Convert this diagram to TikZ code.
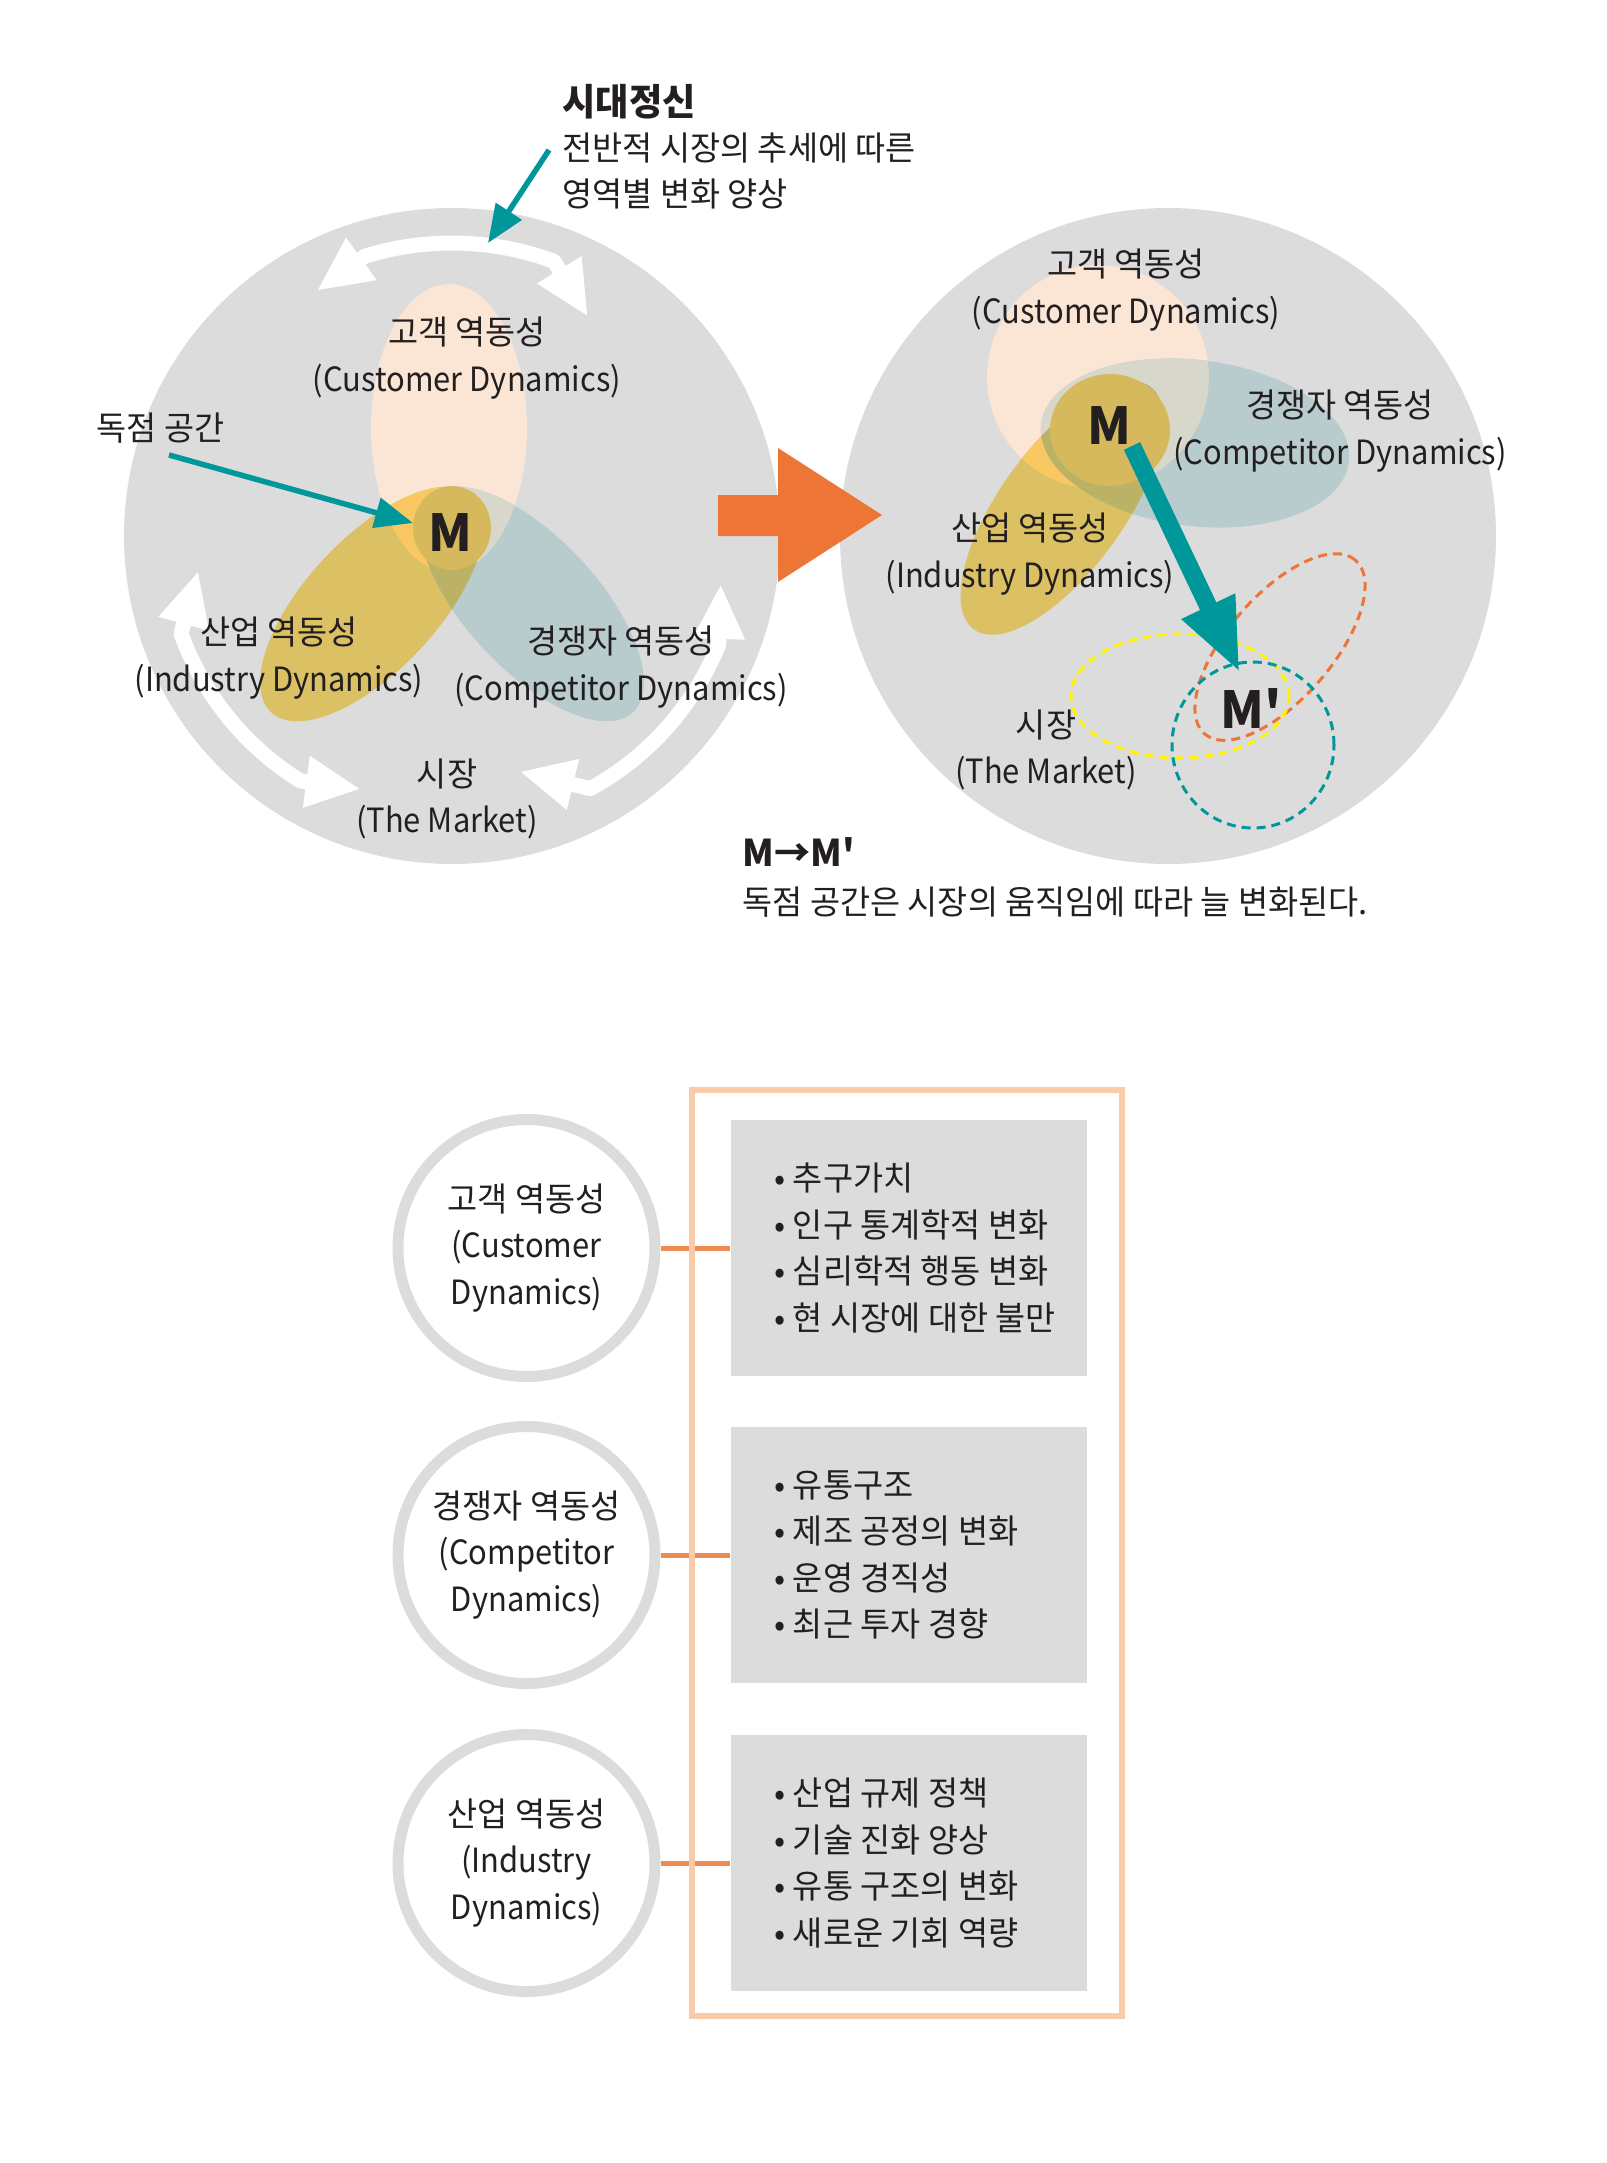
\documentclass[tikz,border=0pt]{standalone}
\usepackage{fontspec}
\setmainfont{Noto Sans CJK KR}[FakeStretch=0.98, Ligatures=TeXOff]
\newfontfamily\en{Noto Sans CJK KR}[FakeStretch=0.925, Ligatures=TeXOff]
\usetikzlibrary{arrows.meta}
\definecolor{my_gray}{HTML}{DCDCDC}
\definecolor{my_peach}{HTML}{FBE5D5}
\definecolor{my_gold}{HTML}{DBC163}
\definecolor{my_blue}{HTML}{B8CBCD}
\definecolor{my_peachgold}{HTML}{F9C862}
\definecolor{my_peachblue}{HTML}{D8D7CB}
\definecolor{my_goldblue}{HTML}{BBB265}
\definecolor{my_core}{HTML}{D6B95D}
\definecolor{my_teal}{HTML}{00979A}
\definecolor{my_orange}{HTML}{ED7536}
\definecolor{my_yellow}{HTML}{FFF200}
\definecolor{my_frame}{HTML}{F9CBA8}
\definecolor{my_link}{HTML}{EF8B50}
\definecolor{my_text}{HTML}{231F20}

\begin{document}
\begin{tikzpicture}[
    x=0.1mm, y=0.1mm,
    dyntext/.style={text=my_text, align=center, inner sep=0pt,
                    font=\fontsize{9.5}{13.2}\selectfont},
    plaintext/.style={text=my_text, align=left, inner sep=0pt,
                      font=\fontsize{9.5}{13.2}\selectfont},
    boldtext/.style={text=my_text, inner sep=0pt,
                     font=\bfseries\fontsize{10.5}{13}\selectfont},
    mletter/.style={text=my_text, inner sep=0pt,
                    font=\bfseries\fontsize{14.5}{16}\selectfont},
    pointer/.style={my_teal, line width=0.55mm,
                    -{Triangle[length=3.8mm, width=3mm]}},
    swirl/.style={white, line width=1.5mm, line join=round,
                  {Triangle[length=5.5mm, width=4.8mm]}-{Triangle[length=5.5mm, width=4.8mm]}},
    trace/.style={line width=0.3mm, dash pattern=on 0.9mm off 0.6mm},
    dyncircle/.style={circle, draw=my_gray, line width=1.1mm, fill=white,
                      minimum size=25.7mm, inner sep=0pt, align=center,
                      text=my_text, font=\fontsize{9.5}{13.2}\selectfont},
    infobox/.style={fill=my_gray, minimum width=35.6mm, minimum height=25.6mm,
                    inner sep=0pt},
    link/.style={my_link, line width=0.5mm}
]
\useasboundingbox (0,0) rectangle (1606,-2163);

% -------- Left diagram ----------------------------------------
\coordinate (cL) at (452,-536);
\fill[my_gray] (cL) circle (328);
% Customer (upright), Industry (+47), Competitor (-47)
\fill[my_peach] (449,-428) ellipse [x radius=78, y radius=144];
\fill[my_gold, rotate around={47:(372,-604)}]
    (372,-604) ellipse [x radius=148, y radius=66];
\fill[my_blue, rotate around={-47:(532,-604)}]
    (532,-604) ellipse [x radius=148, y radius=66];
% Overlaps
\begin{scope}
    \clip (449,-428) ellipse [x radius=78, y radius=144];
    \fill[my_peachgold, rotate around={47:(372,-604)}]
        (372,-604) ellipse [x radius=148, y radius=66];
    \fill[my_peachblue, rotate around={-47:(532,-604)}]
        (532,-604) ellipse [x radius=148, y radius=66];
\end{scope}
\begin{scope}
    \clip[rotate around={47:(372,-604)}]
        (372,-604) ellipse [x radius=148, y radius=66];
    \fill[my_goldblue, rotate around={-47:(532,-604)}]
        (532,-604) ellipse [x radius=148, y radius=66];
\end{scope}
% Monopoly space
\fill[my_core] (452,-528) ellipse [x radius=39, y radius=42];

% White double arrows round the circle
\draw[swirl] ([shift={(118.9:280)}]cL) -- ([shift={(107.3:293)}]cL)
    arc [start angle=107.3, end angle=69.6, radius=293]
    -- ([shift={(58.2:258)}]cL);
\draw[swirl] ([shift={(187.8:256)}]cL) -- ([shift={(199.8:288)}]cL)
    arc [start angle=199.8, end angle=238.3, radius=288]
    -- ([shift={(250.2:269)}]cL);
\draw[swirl] ([shift={(-10.1:273)}]cL) -- ([shift={(-22.2:288)}]cL)
    arc [start angle=-22.2, end angle=-61.3, radius=288]
    -- ([shift={(-74:245)}]cL);

% Labels
\node[dyntext] (custL) at (467,-358) {고객 역동성\\{\en (Customer Dynamics)}};
\node[dyntext] (indL)  at (279,-658) {산업 역동성\\{\en (Industry Dynamics)}};
\node[dyntext] (compL) at (621,-667) {경쟁자 역동성\\{\en (Competitor Dynamics)}};
\node[dyntext] (mktL)  at (447,-799) {시장\\{\en (The Market)}};
\node[mletter] (mL) at (450,-533) {M};

% Zeitgeist note
\node[boldtext, anchor=west] (zeitTitle) at (562,-102) {시대정신};
\node[plaintext, anchor=west] (zeitText) at (562,-171)
    {전반적 시장의 추세에 따른\\영역별 변화 양상};
\coordinate (zeitTail) at (549,-150);
\coordinate (zeitTip)  at (488,-243);
\draw[pointer] (zeitTail) -- (zeitTip);

% Monopoly note
\node[plaintext, anchor=east] (monoText) at (225,-428) {독점 공간};
\coordinate (monoTail) at (169,-455);
\coordinate (monoTip)  at (413,-523);
\draw[pointer] (monoTail) -- (monoTip);

% -------- Right diagram ---------------------------------------
\coordinate (cR) at (1168,-536);
\fill[my_gray] (cR) circle (328);
\fill[my_peach] (1098,-377) ellipse [x radius=111, y radius=112];
\fill[my_gold, rotate around={54:(1062,-508)}]
    (1062,-508) ellipse [x radius=150, y radius=62];
\fill[my_blue, rotate around={-7:(1195,-443)}]
    (1195,-443) ellipse [x radius=155, y radius=83];
\begin{scope}
    \clip (1098,-377) ellipse [x radius=111, y radius=112];
    \fill[my_peachgold, rotate around={54:(1062,-508)}]
        (1062,-508) ellipse [x radius=150, y radius=62];
    \fill[my_peachblue, rotate around={-7:(1195,-443)}]
        (1195,-443) ellipse [x radius=155, y radius=83];
\end{scope}
\begin{scope}
    \clip[rotate around={54:(1062,-508)}]
        (1062,-508) ellipse [x radius=150, y radius=62];
    \fill[my_goldblue, rotate around={-7:(1195,-443)}]
        (1195,-443) ellipse [x radius=155, y radius=83];
\end{scope}
\fill[my_core] (1110,-430) ellipse [x radius=60, y radius=56];

% New position (dashed)
\draw[trace, my_orange, rotate around={49:(1280,-647)}]
    (1280,-647) ellipse [x radius=115, y radius=52];
\draw[trace, my_yellow] (1180,-696) ellipse [x radius=109, y radius=62];
\draw[trace, my_teal] (1253,-745) ellipse [x radius=81, y radius=83];

% Labels
\node[dyntext] (custR) at (1126,-290) {고객 역동성\\{\en (Customer Dynamics)}};
\node[dyntext] (compR) at (1340,-431) {경쟁자 역동성\\{\en (Competitor Dynamics)}};
\node[dyntext] (indR)  at (1030,-554) {산업 역동성\\{\en (Industry Dynamics)}};
\node[dyntext] (mktR)  at (1046,-750) {시장\\{\en (The Market)}};
\node[mletter] (mR)  at (1109,-426) {M};
\node[mletter] (mpR) at (1251,-709) {M'};

% Shift M -> M'
\coordinate (shiftTail) at (1132,-446);
\coordinate (shiftTip)  at (1240,-673);
\draw[my_teal, line width=1.8mm, -{Triangle[length=7.4mm, width=5.4mm]}]
    (shiftTail) -- (shiftTip);

% -------- Big orange arrow between the diagrams ---------------
\fill[my_orange] (718,-495) -- (778,-495) -- (778,-448) -- (882,-515)
    -- (778,-582) -- (778,-536) -- (718,-536) -- cycle;

% Caption
\node[boldtext, anchor=west] (shiftTitle) at (742,-852) {M→M'};
\node[plaintext, anchor=west] (shiftText) at (742,-902)
    {독점 공간은 시장의 움직임에 따라 늘 변화된다.};

% -------- Lower table -----------------------------------------
\node[dyncircle] (custNode) at (526.5,-1248)
    {고객 역동성\\{\en (Customer}\\{\en Dynamics)}};
\node[dyncircle] (compNode) at (526.5,-1555)
    {경쟁자 역동성\\{\en (Competitor}\\{\en Dynamics)}};
\node[dyncircle] (indNode) at (526.5,-1863)
    {산업 역동성\\{\en (Industry}\\{\en Dynamics)}};

\node[infobox] (custBox) at (908.5,-1248) {};
\node[infobox] (compBox) at (908.5,-1555) {};
\node[infobox] (indBox)  at (908.5,-1863) {};

\node[plaintext, anchor=west] (custList) at ([xshift=4.4mm]custBox.west)
    {• 추구가치\\• 인구 통계학적 변화\\• 심리학적 행동 변화\\• 현 시장에 대한 불만};
\node[plaintext, anchor=west] (compList) at ([xshift=4.4mm]compBox.west)
    {• 유통구조\\• 제조 공정의 변화\\• 운영 경직성\\• 최근 투자 경향};
\node[plaintext, anchor=west] (indList) at ([xshift=4.4mm]indBox.west)
    {• 산업 규제 정책\\• 기술 진화 양상\\• 유통 구조의 변화\\• 새로운 기회 역량};

\draw[link] (custNode) -- (custBox);
\draw[link] (compNode) -- (compBox);
\draw[link] (indNode) -- (indBox);

% Frame round the lists
\draw[my_frame, line width=0.6mm] (692,-1090) rectangle (1122,-2016);

\end{tikzpicture}
\end{document}
